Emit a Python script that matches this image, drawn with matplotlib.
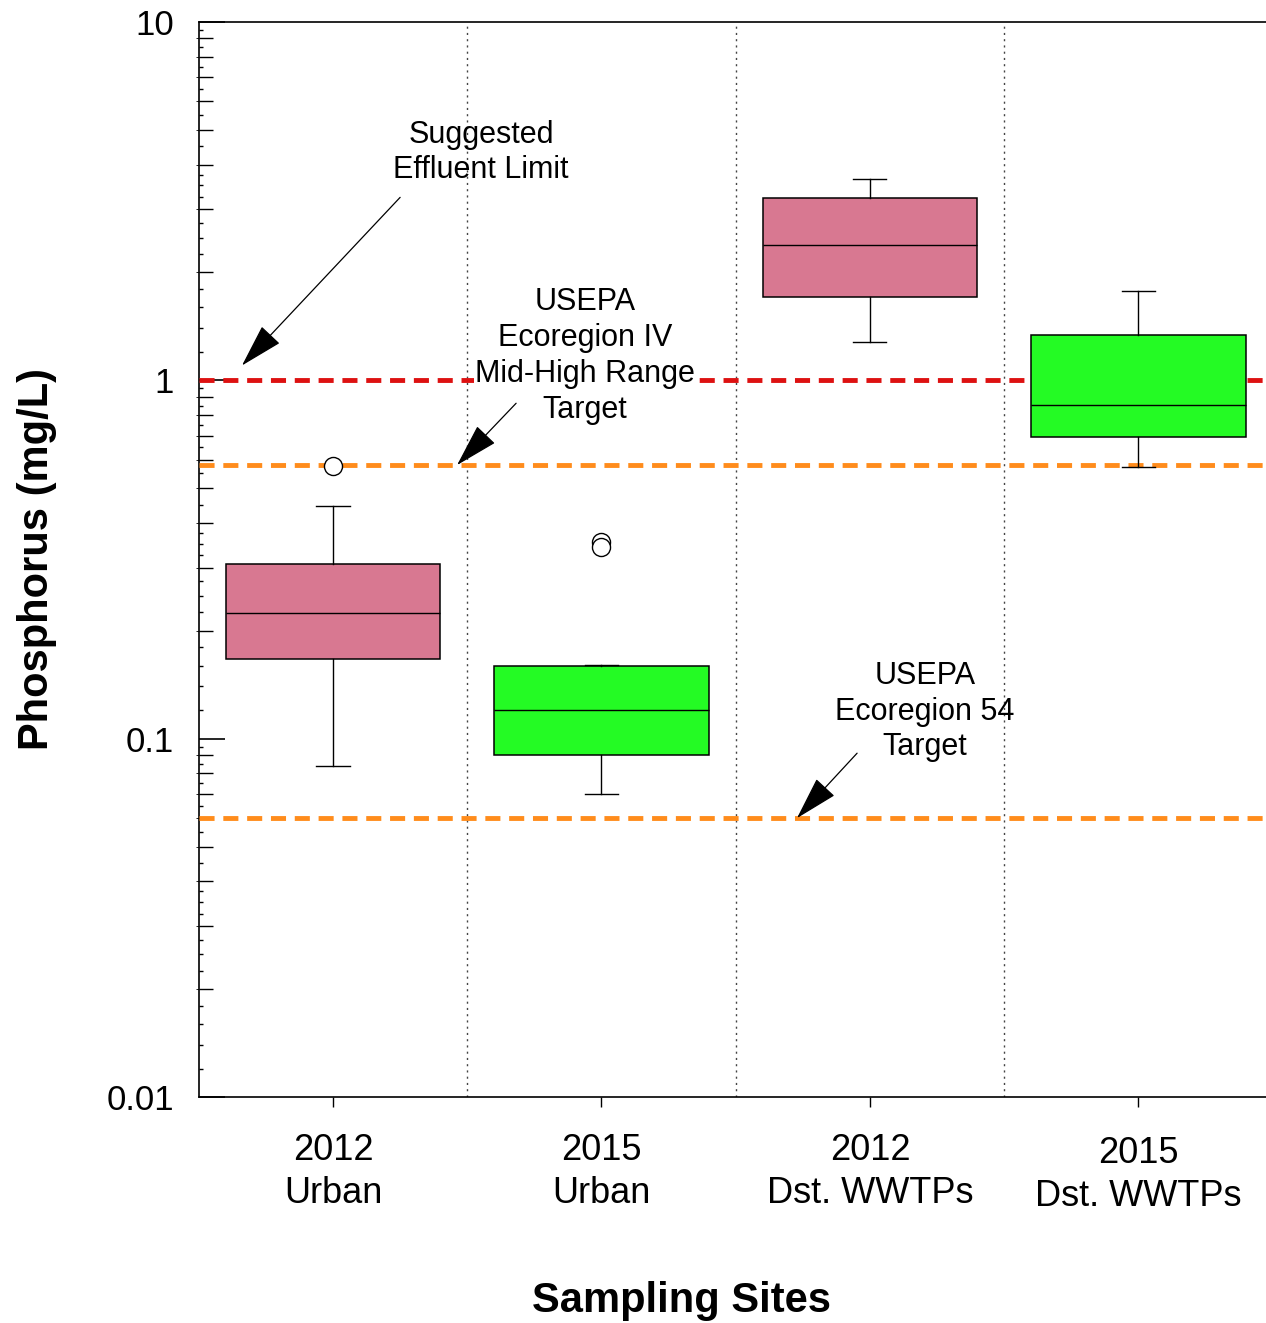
"""
Phosphorus box plot by sampling site.
"""

import matplotlib
matplotlib.use("Agg")
import matplotlib.pyplot as plt
from matplotlib.ticker import FixedLocator, NullFormatter
from matplotlib.transforms import ScaledTranslation

plt.rcParams["font.family"] = ["Liberation Sans", "DejaVu Sans"]

# data (mg/L)
sites = ["2012\nUrban", "2015\nUrban", "2012\nDst. WWTPs", "2015\nDst. WWTPs"]
q1 = [0.167, 0.090, 1.71, 0.693]
median = [0.224, 0.120, 2.39, 0.852]
q3 = [0.307, 0.160, 3.22, 1.335]
whisker_low = [0.0838, 0.070, 1.28, 0.572]
whisker_high = [0.445, 0.161, 3.64, 1.78]
outliers = [[0.575], [0.353, 0.342], [], []]
box_colors = ["#d87891", "#24fb24", "#d87891", "#24fb24"]

effluent_limit = 1.0
ecoregion_iv_target = 0.58
ecoregion_54_target = 0.06

fig = plt.figure(figsize=(12.66, 13.23), dpi=100)
ax = fig.add_axes([0.157, 0.1708, 0.843, 0.8126])

stats = []
for i in range(len(sites)):
    stats.append({
        "med": median[i],
        "q1": q1[i],
        "q3": q3[i],
        "whislo": whisker_low[i],
        "whishi": whisker_high[i],
        "fliers": outliers[i],
    })

bp = ax.bxp(
    stats,
    positions=range(1, len(sites) + 1),
    widths=0.8,
    capwidths=0.123,
    patch_artist=True,
    boxprops=dict(edgecolor="black", linewidth=1.1),
    medianprops=dict(color="black", linewidth=1.0),
    whiskerprops=dict(color="black", linewidth=1.0),
    capprops=dict(color="black", linewidth=1.0),
    flierprops=dict(marker="o", markersize=13, markerfacecolor="white",
                    markeredgecolor="black", markeredgewidth=1.0),
    zorder=4,
)
for patch, color in zip(bp["boxes"], box_colors):
    patch.set_facecolor(color)
for flier in bp["fliers"]:
    flier.set_zorder(6)

# separators between sites
for xpos in [1.5, 2.5, 3.5]:
    ax.axvline(xpos, color="#444444", linestyle=(0, (1.5, 3.0)),
               linewidth=1.0, zorder=1)

# reference levels
ax.axhline(effluent_limit, color="#dd1111", linewidth=3.5,
           dashes=(3.1, 1.8), zorder=3)
ax.axhline(ecoregion_iv_target, color="#ff8c1c", linewidth=3.5,
           dashes=(3.1, 1.8), zorder=3)
ax.axhline(ecoregion_54_target, color="#ff8c1c", linewidth=3.5,
           dashes=(3.1, 1.8), zorder=3)

arrow = dict(arrowstyle="-|>, head_length=1.4, head_width=0.4",
             color="black", linewidth=0.9, mutation_scale=20,
             shrinkA=0, shrinkB=0)

ax.text(1.551, 4.32, "Suggested\nEffluent Limit", fontsize=22,
        ha="center", va="center", linespacing=1.25, zorder=7)
ax.annotate("", xy=(0.661, 1.10), xytext=(1.250, 3.24),
            arrowprops=arrow, zorder=7)

ax.text(1.939, 1.17, "USEPA\nEcoregion IV\nMid-High Range\nTarget",
        fontsize=22, ha="center", va="center", linespacing=1.25, zorder=7,
        bbox=dict(facecolor="white", edgecolor="none", pad=1))
ax.annotate("", xy=(1.462, ecoregion_iv_target), xytext=(1.682, 0.863),
            arrowprops=arrow, zorder=7)

ax.text(3.205, 0.119, "USEPA\nEcoregion 54\nTarget", fontsize=22,
        ha="center", va="center", linespacing=1.25, zorder=7)
ax.annotate("", xy=(2.728, ecoregion_54_target), xytext=(2.952, 0.0911),
            arrowprops=arrow, zorder=7)

# axes
ax.set_yscale("log")
ax.set_ylim(0.01, 10)
ax.set_xlim(0.5, 4.475)

ax.spines["right"].set_visible(False)
for side in ["left", "top", "bottom"]:
    ax.spines[side].set_linewidth(1.2)

ax.set_yticks([0.01, 0.1, 1, 10])
ax.set_yticklabels(["0.01", "0.1", "1", "10"])
minor = []
for decade in [0.01, 0.1, 1]:
    minor += [decade * k for k in range(2, 10)]
ax.yaxis.set_minor_locator(FixedLocator(minor))
ax.yaxis.set_minor_formatter(NullFormatter())
ax.tick_params(axis="y", which="major", direction="in", length=19,
               width=1.2, labelsize=25, pad=18)
ax.tick_params(axis="y", which="minor", direction="in", length=10,
               width=1.0)

# tiny ticks along the left spine
tiny = []
for decade in [0.01, 0.1, 1]:
    tiny += [decade * k for k in [1.2, 1.4, 1.6, 1.8, 2.25, 2.5, 2.75,
                                  3.25, 3.5, 3.75, 4.5, 5.5, 6.5, 7.5,
                                  8.5, 9.5]]
sec = ax.secondary_yaxis("left")
sec.set_yticks(tiny)
sec.set_yticklabels([])
sec.tick_params(axis="y", direction="in", length=3, width=1.0)
sec.spines["left"].set_visible(False)

ax.set_xticks(range(1, len(sites) + 1))
ax.set_xticklabels(sites, linespacing=1.3)
ax.tick_params(axis="x", direction="out", length=7, width=1.0,
               labelsize=26, pad=19)

# last site label sits a little lower in the original
last = ax.get_xticklabels()[-1]
last.set_transform(last.get_transform() +
                   ScaledTranslation(0, -3 / 100, fig.dpi_scale_trans))

ax.set_ylabel("Phosphorus (mg/L)", fontsize=30, fontweight="bold")
ax.yaxis.set_label_coords(-0.133, 0.5)
ax.set_xlabel("Sampling Sites", fontsize=30, fontweight="bold")
ax.xaxis.set_label_coords(0.452, -0.171)

plt.savefig("out.png", dpi=100)
plt.close()
